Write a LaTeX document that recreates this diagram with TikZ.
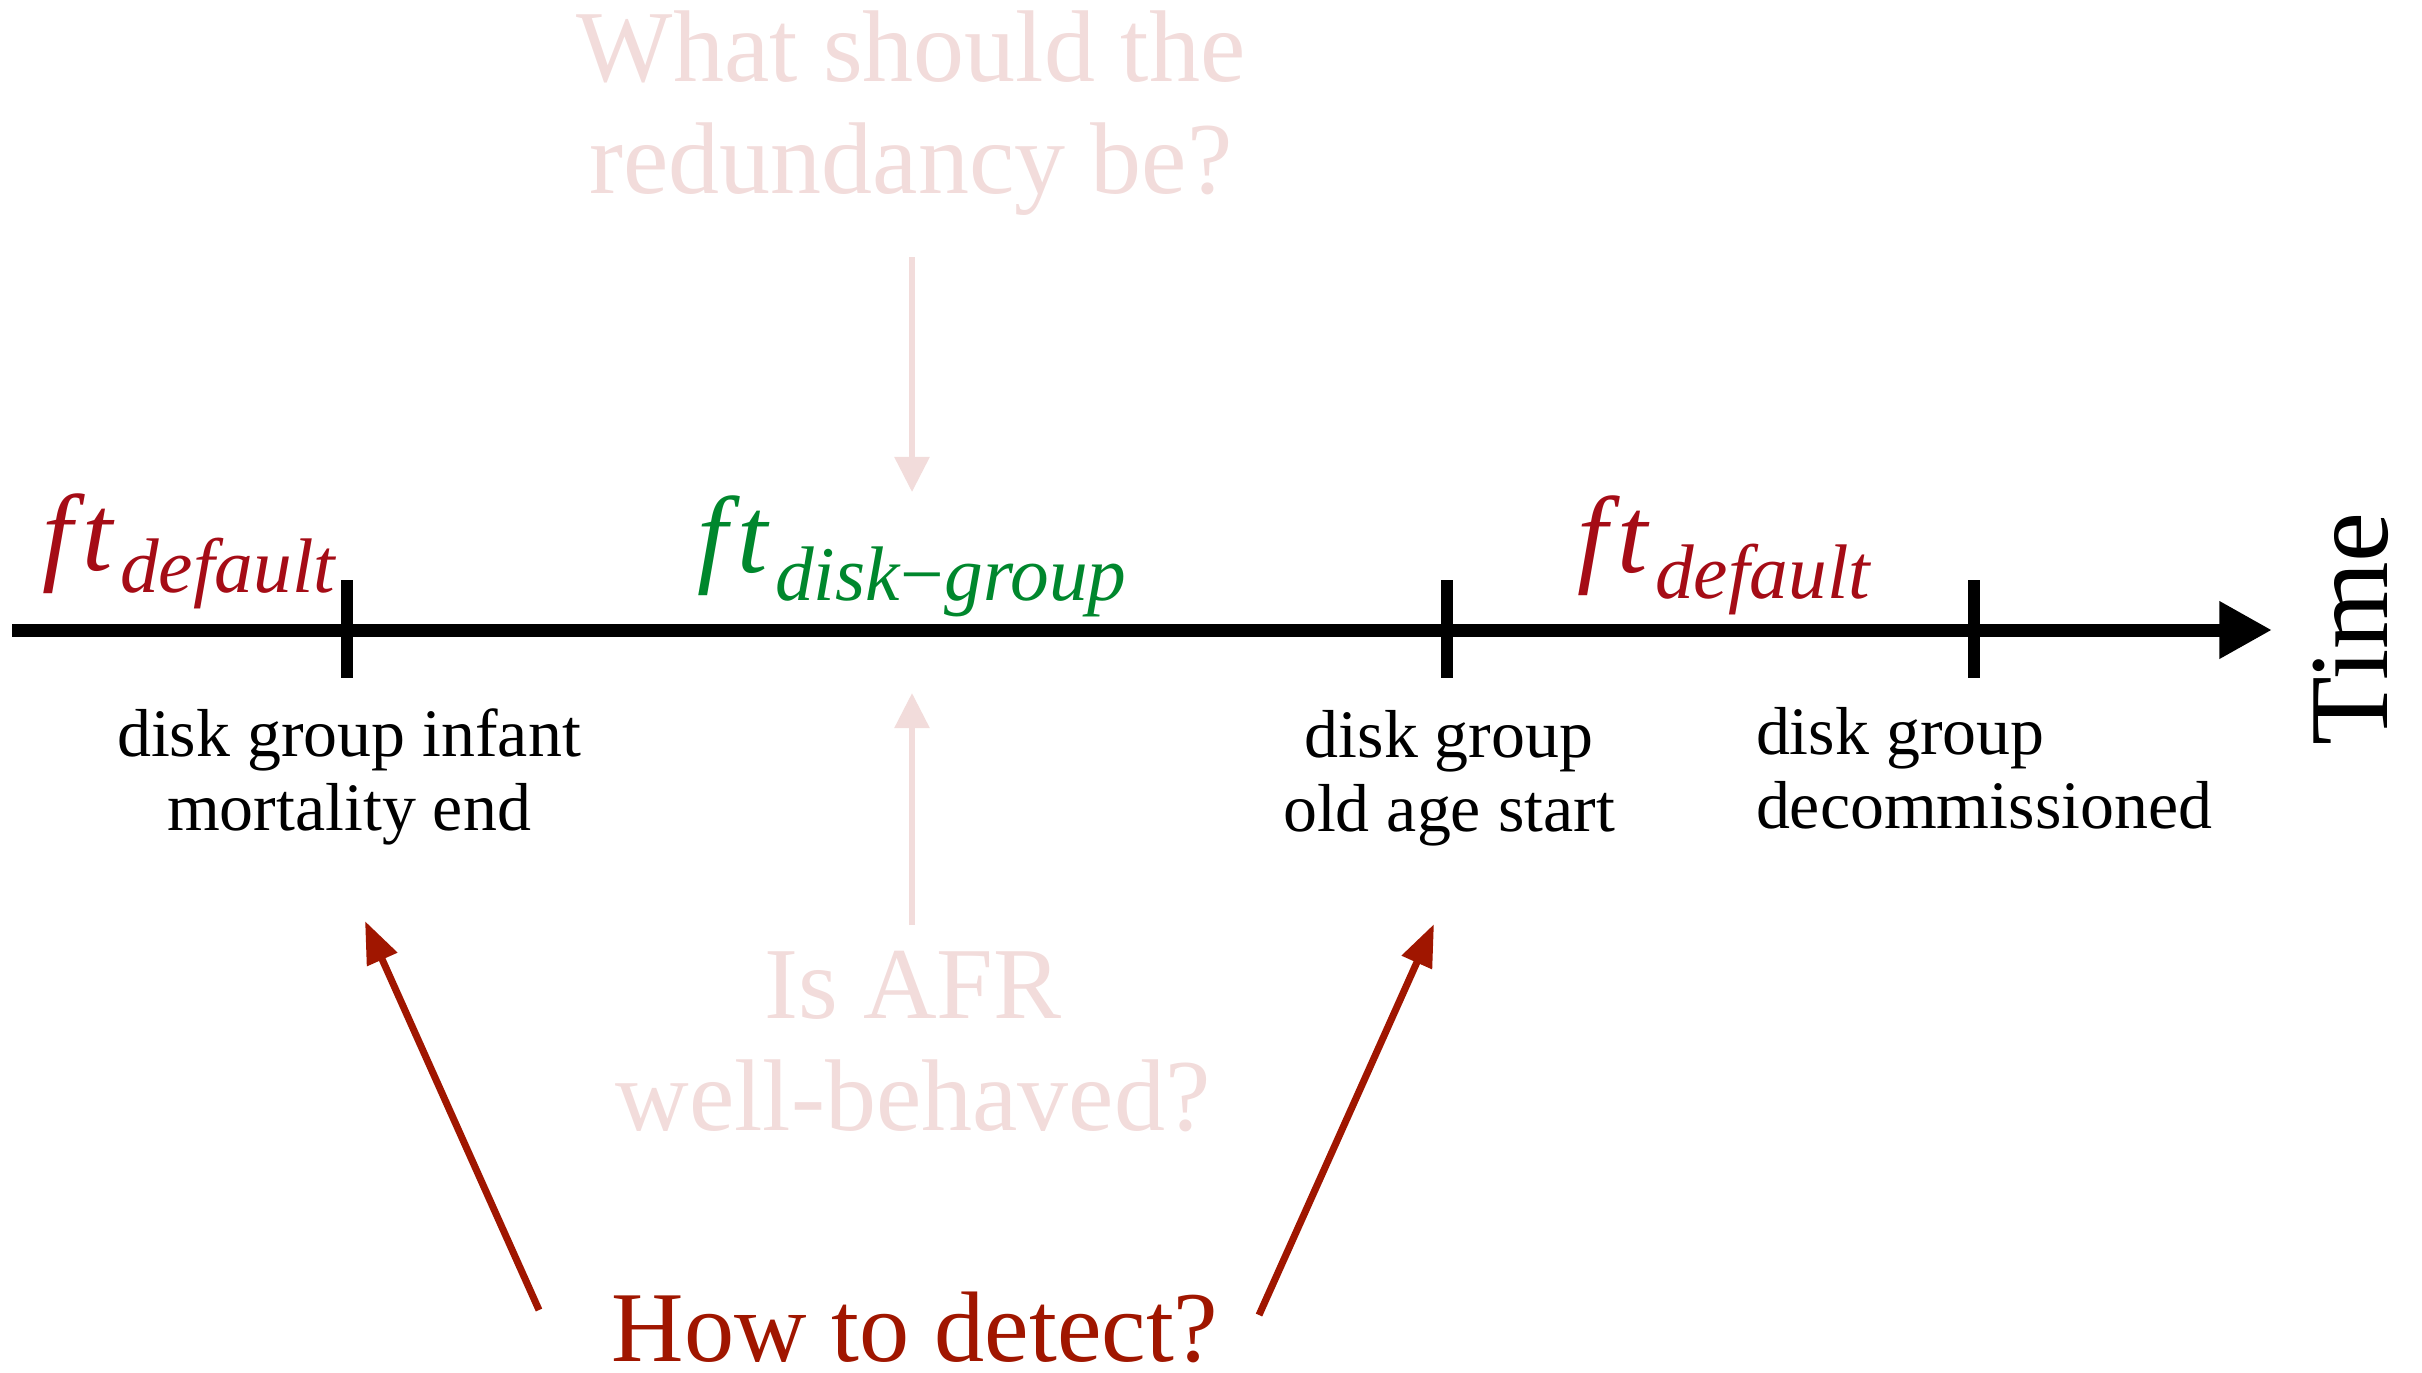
\documentclass[tikz,border=0pt]{standalone}
\usepackage{fontspec}
\setmainfont{Liberation Serif}
\usetikzlibrary{arrows.meta}
\definecolor{paleq}{RGB}{242,220,219}
\definecolor{ftred}{RGB}{165,12,22}
\definecolor{askred}{RGB}{160,22,0}
\definecolor{ftgreen}{RGB}{0,135,45}
\newcommand{\ftlabel}[2]{{\fontsize{31}{31}\selectfont\itshape f\kern3pt t}\hspace{2pt}\raisebox{#1}{\fontsize{22}{22}\selectfont\itshape #2}}
\begin{document}
\begin{tikzpicture}[x=0.01cm,y=-0.01cm,
  every node/.style={inner sep=0pt,outer sep=0pt},
  axisline/.style={line width=3.7pt,-{Triangle[length=15pt,width=15.4pt]}},
  tickmark/.style={line width=3.4pt},
  paleflow/.style={draw=paleq,line width=1.7pt,-{Triangle[length=10pt,width=9.7pt]}},
  askflow/.style={draw=askred,line width=2pt,-{Triangle[length=12pt,width=9pt]}},
  milestone/.style={font=\fontsize{19.3}{20.8}\selectfont,align=center,anchor=base},
  question/.style={text=paleq,font=\fontsize{29}{31.8}\selectfont,align=center,anchor=base}]
\useasboundingbox (0,0) rectangle (2422,1372);

% time axis with its three milestones
\coordinate (axisL) at (12,630);
\coordinate (axisR) at (2272,630);
\draw[axisline] (axisL) -- (axisR);
\coordinate (t1a) at (347,580); \coordinate (t1b) at (347,678);
\coordinate (t2a) at (1447,580); \coordinate (t2b) at (1447,678);
\coordinate (t3a) at (1974,580); \coordinate (t3b) at (1974,678);
\draw[tickmark] (t1a) -- (t1b);
\draw[tickmark] (t2a) -- (t2b);
\draw[tickmark] (t3a) -- (t3b);

\node[rotate=90,anchor=base,font=\fontsize{32}{32}\selectfont] (timelbl) at (2387,629) {Time};

% phase labels above the axis
\node[anchor=base west,text=ftred] (ftA) at (42,570) {\ftlabel{-6.5pt}{default}};
\node[anchor=base west,text=ftgreen] (ftB) at (697,572) {\ftlabel{-8pt}{disk\textup{−}group}};
\node[anchor=base west,text=ftred] (ftC) at (1577,572) {\ftlabel{-7.5pt}{default}};

% milestone captions below the axis (anchored on the baseline of the lower line)
\node[milestone] (ms1) at (349,830) {disk group infant\\mortality end};
\node[milestone] (ms2) at (1449,831) {disk group\\old age start};
\node[milestone,align=left,anchor=base west] (ms3) at (1756,828) {disk group\\decommissioned};

% open questions
\node[question] (qred) at (911,193) {What should the\\redundancy be?};
\node[question] (qafr) at (913,1130) {Is AFR\\well-behaved?};
\node[anchor=base,text=askred,font=\fontsize{28.5}{30}\selectfont] (qdet) at (915,1361) {How to detect?};

\coordinate (redS) at (912,257);
\coordinate (redE) at (912,492);
\draw[paleflow] (redS) -- (redE);
\coordinate (afrS) at (912,925);
\coordinate (afrE) at (912,693);
\draw[paleflow] (afrS) -- (afrE);

\coordinate (detLS) at (539,1310);
\coordinate (detLE) at (365,921);
\coordinate (detRS) at (1259,1315);
\coordinate (detRE) at (1434,924);
\draw[askflow] (detLS) -- (detLE);
\draw[askflow] (detRS) -- (detRE);
\end{tikzpicture}
\end{document}
